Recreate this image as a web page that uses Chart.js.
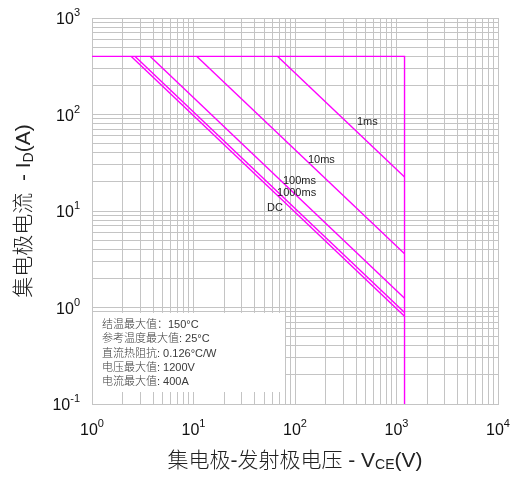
<!DOCTYPE html>
<html>
<head>
<meta charset="utf-8">
<script src="https://cdn.jsdelivr.net/npm/chart.js@4.4.1/dist/chart.umd.min.js"></script>
<style>
  html, body { margin: 0; padding: 0; background: #fff; }
  canvas { display: block; }
</style>
</head>
<body>
<canvas id="soa" width="516" height="477"></canvas>
<script>
// SOA limits
const limitV = [1, 1200, 1200];
const limitI = [400, 400, 0.1];

// pulse lines: start on the 400A limit, end on the 1200V limit
const pulseNames = ["1ms", "10ms", "100ms", "1000ms", "DC"];
const pulseStartV = [67.5, 10.8, 3.75, 2.66, 2.44];
const pulseEndI = [22.5, 3.6, 1.25, 0.89, 0.81];

// where the pulse names sit (data units)
const labelV = [408, 134, 76, 66.5, 53];
const labelI = [84, 33.8, 20.5, 15.4, 10.7];

// decade tick labels (exponents of 10)
const xTickExp = [0, 1, 2, 3, 4];
const yTickExp = [-1, 0, 1, 2, 3];

const noteLines = [
  "结温最大值：150°C",
  "参考温度最大值: 25°C",
  "直流热阻抗: 0.126°C/W",
  "电压最大值: 1200V",
  "电流最大值: 400A",
];

const magenta = "#ff00ff";
const gridColor = "#c4c4c4";
const latin = '"Liberation Sans", "Noto Sans CJK SC", sans-serif';

const gridTicks = (lo, hi) => {
  const ticks = [];
  for (let e = lo; e < hi; e++) {
    for (let m = 1; m < 10; m++) ticks.push({ value: m * Math.pow(10, e) });
  }
  ticks.push({ value: Math.pow(10, hi) });
  return ticks;
};

const datasets = [
  {
    data: limitV.map((v, i) => ({ x: v, y: limitI[i] })),
  },
];
pulseNames.forEach((name, i) => {
  datasets.push({
    label: name,
    data: [
      { x: pulseStartV[i], y: limitI[0] },
      { x: limitV[1], y: pulseEndI[i] },
    ],
  });
});
datasets.forEach((d) => {
  d.showLine = true;
  d.borderColor = magenta;
  d.borderWidth = 1.4;
  d.pointRadius = 0;
  d.fill = false;
});

// text with sub/superscripts, drawn piece by piece
const drawRich = (ctx, parts, x, y, align) => {
  let total = 0;
  parts.forEach((p) => {
    ctx.font = p.font;
    p.w = ctx.measureText(p.text).width;
    total += p.w;
  });
  let cx = align === "center" ? x - total / 2 : align === "right" ? x - total : x;
  ctx.textAlign = "left";
  parts.forEach((p) => {
    ctx.font = p.font;
    ctx.fillText(p.text, cx, y + (p.dy || 0));
    cx += p.w;
  });
};

const textPlugin = {
  id: "textPlugin",
  beforeDatasetsDraw(chart) {
    const { ctx, chartArea, scales } = chart;
    const top = scales.y.getPixelForValue(0.9) + 1;
    ctx.save();
    ctx.fillStyle = "#fff";
    ctx.fillRect(chartArea.left + 1, top, 192, chartArea.bottom - 12 - top);
    ctx.fillStyle = "#3a3a3a";
    ctx.font = "300 11px " + latin;
    ctx.textBaseline = "alphabetic";
    ctx.textAlign = "left";
    noteLines.forEach((t, i) => {
      ctx.fillText(t, chartArea.left + 10, top + 15 + i * 14.3);
    });
    ctx.restore();
  },
  afterDraw(chart) {
    const { ctx, chartArea, scales } = chart;
    ctx.save();
    ctx.fillStyle = "#111";
    ctx.textBaseline = "alphabetic";

    xTickExp.forEach((e) => {
      const px = scales.x.getPixelForValue(Math.pow(10, e));
      drawRich(ctx, [
        { text: "10", font: "16px " + latin },
        { text: String(e), font: "11px " + latin, dy: -8 },
      ], px, chartArea.bottom + 31, "center");
    });
    yTickExp.forEach((e) => {
      const py = scales.y.getPixelForValue(Math.pow(10, e));
      drawRich(ctx, [
        { text: "10", font: "16px " + latin },
        { text: String(e), font: "11px " + latin, dy: -8 },
      ], chartArea.left - 12, py + 6, "right");
    });

    // axis titles
    ctx.fillStyle = "#222";
    const cx = (chartArea.left + chartArea.right) / 2;
    drawRich(ctx, [
      { text: "集电极-发射极电压 - V", font: "300 21px " + latin },
      { text: "CE", font: "14px " + latin, dy: 2 },
      { text: "(V)", font: "300 21px " + latin },
    ], cx, 467, "center");

    const cy = (chartArea.top + chartArea.bottom) / 2;
    ctx.translate(30, cy);
    ctx.rotate(-Math.PI / 2);
    drawRich(ctx, [
      { text: "集电极电流  - I", font: "300 21px " + latin },
      { text: "D", font: "14px " + latin, dy: 3 },
      { text: "(A)", font: "300 21px " + latin },
    ], 0, 0, "center");
    ctx.setTransform(1, 0, 0, 1, 0, 0);

    // pulse names
    ctx.fillStyle = "#222";
    ctx.font = "11px " + latin;
    ctx.textBaseline = "middle";
    ctx.textAlign = "left";
    pulseNames.forEach((name, i) => {
      ctx.fillText(name, scales.x.getPixelForValue(labelV[i]), scales.y.getPixelForValue(labelI[i]));
    });
    ctx.restore();
  },
};

const logAxis = (min, max, lo, hi) => ({
  type: "logarithmic",
  min: min,
  max: max,
  afterBuildTicks: (axis) => {
    axis.ticks = gridTicks(lo, hi);
  },
  ticks: { display: false, padding: 0 },
  grid: { color: gridColor, lineWidth: 1, drawTicks: false, tickLength: 0 },
  border: { display: true, color: gridColor, width: 1 },
});

new Chart(document.querySelector("#soa").getContext("2d"), {
  type: "scatter",
  data: { datasets: datasets },
  options: {
    responsive: false,
    animation: false,
    layout: { padding: { left: 92, top: 18, right: 18, bottom: 73 } },
    plugins: { legend: { display: false }, tooltip: { enabled: false } },
    scales: {
      x: logAxis(1, 10000, 0, 4),
      y: logAxis(0.1, 1000, -1, 3),
    },
  },
  plugins: [textPlugin],
});
</script>
</body>
</html>
